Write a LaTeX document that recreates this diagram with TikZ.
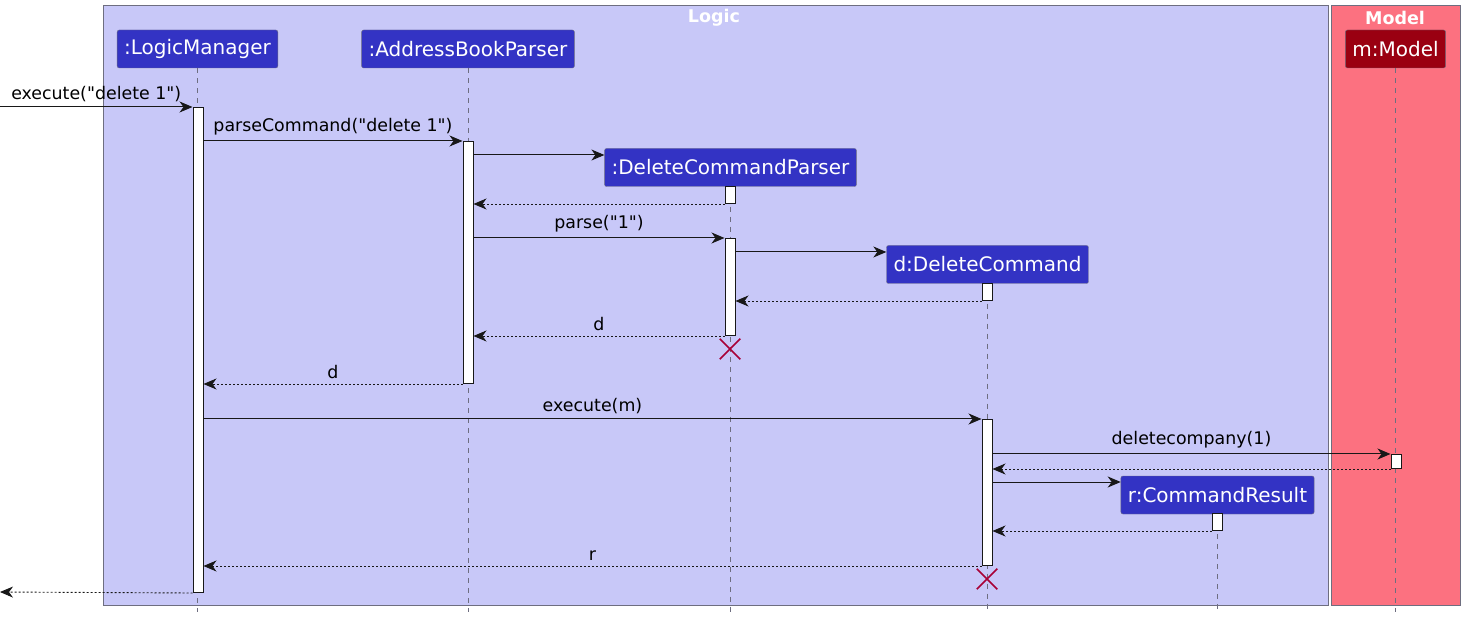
\documentclass[tikz,border=0pt]{standalone}
\usepackage{fontspec}
\setmainfont{DejaVu Sans}
\usetikzlibrary{arrows.meta,shapes.misc}

\definecolor{logicbg}{HTML}{C8C8F8}
\definecolor{modelbg}{HTML}{FC7180}
\definecolor{partblue}{HTML}{3333C4}
\definecolor{partred}{HTML}{9A0011}
\definecolor{edgegrey}{HTML}{6E6E80}
\definecolor{linegrey}{HTML}{181818}
\definecolor{killred}{HTML}{A80036}

\newcommand{\qt}{\textquotedbl}

\begin{document}
\begin{tikzpicture}[x=1pt,y=-1pt,
  frame/.style={draw=edgegrey,line width=1pt},
  title/.style={text=white,font=\bfseries\fontsize{17.5}{20}\selectfont,inner sep=0pt},
  actor/.style={draw=edgegrey,fill=partblue,text=white,rounded corners=2pt,
    inner xsep=7pt,inner ysep=0pt,minimum height=38pt,font=\fontsize{20}{24}\selectfont},
  life/.style={draw=edgegrey,line width=0.8pt,dash pattern=on 5pt off 5pt},
  bar/.style={draw=linegrey,fill=white,line width=1pt,minimum width=10pt,inner sep=0pt,anchor=north},
  call/.style={-{Stealth[length=13pt,width=11pt,inset=4pt]},draw=linegrey,line width=1pt},
  ret/.style={call,line width=0.9pt,dash pattern=on 2pt off 2pt},
  lbl/.style={above,inner sep=0pt,yshift=5pt,text=black,font=\fontsize{17.4}{20}\selectfont},
  kill/.style={cross out,draw=killred,line width=1.5pt,minimum size=19pt,inner sep=0pt}]
  \useasboundingbox (0,0) rectangle (1465,617);

  % boxes
  \draw[frame,fill=logicbg] (103,6) rectangle (1328,605);
  \draw[frame,fill=modelbg] (1331,6) rectangle (1460,605);
  \node[title] (logicT) at (714,17.5) {Logic};
  \node[title] (modelT) at (1395,17.5) {Model};

  % participants
  \node[actor] (lm)  at (197.5,49)   {:LogicManager};
  \node[actor] (abp) at (468,49)     {:AddressBookParser};
  \node[actor] (dcp) at (730.5,167.5) {:DeleteCommandParser};
  \node[actor] (dc)  at (987.5,264.5) {d:DeleteCommand};
  \node[actor] (cr)  at (1217.5,495) {r:CommandResult};
  \node[actor,fill=partred] (m) at (1395.5,49) {m:Model};

  \foreach \p in {lm,abp,dcp,dc,cr,m}
    \draw[life] (\p.south) -- (\p.south |- 0,612);

  % activations
  \node[bar,minimum height=485pt] (lmA)  at (198,107)  {};
  \node[bar,minimum height=242pt] (abpA) at (468,141)  {};
  \node[bar,minimum height=17pt]  (dcpA) at (730,186)  {};
  \node[bar,minimum height=97pt]  (dcpB) at (730,238)  {};
  \node[bar,minimum height=17pt]  (dcA)  at (987,283)  {};
  \node[bar,minimum height=146pt] (dcB)  at (987,419)  {};
  \node[bar,minimum height=17pt]  (crA)  at (1217,513) {};
  \node[bar,minimum height=14pt]  (mA)   at (1396,454) {};

  \coordinate (in)  at (0,107);
  \coordinate (out) at (0,592);

  % messages
  \path (in) edge[call] node[lbl] {execute(\qt delete 1\qt)} (lmA.north west)
        (lmA.east |- abpA.north) edge[call] node[lbl] {parseCommand(\qt delete 1\qt)} (abpA.north west)
        (abpA.east |- 0,155) edge[call] (dcp.west |- 0,155)
        (dcpA.south west) edge[ret] (abpA.east |- dcpA.south)
        (abpA.east |- dcpB.north) edge[call] node[lbl] {parse(\qt 1\qt)} (dcpB.north west)
        (dcpB.east |- 0,252) edge[call] (dc.west |- 0,252)
        (dcA.south west) edge[ret] (dcpB.east |- dcA.south)
        (dcpB.south west) edge[ret] node[lbl] {d} (abpA.east |- dcpB.south)
        (abpA.south west) edge[ret] node[lbl] {d} (lmA.east |- abpA.south)
        (lmA.east |- dcB.north) edge[call] node[lbl] {execute(m)} (dcB.north west)
        (dcB.east |- mA.north) edge[call] node[lbl] {deletecompany(1)} (mA.north west)
        (mA.south west) edge[ret] (dcB.east |- mA.south)
        (dcB.east |- 0,482) edge[call] (cr.west |- 0,482)
        (crA.south west) edge[ret] (dcB.east |- crA.south)
        (dcB.south west) edge[ret] node[lbl] {r} (lmA.east |- dcB.south)
        (lmA.south west) edge[ret] (out);

  % destroyed
  \node[kill] (dcpX) at (730,349) {};
  \node[kill] (dcX)  at (987,579) {};
\end{tikzpicture}
\end{document}
